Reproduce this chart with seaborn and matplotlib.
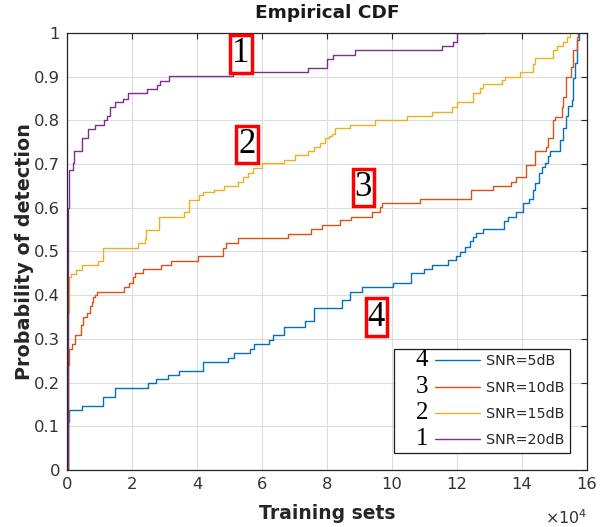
import numpy as np
import pandas as pd
import matplotlib
matplotlib.use("Agg")
import matplotlib.pyplot as plt
import seaborn as sns
from matplotlib.legend_handler import HandlerBase
from matplotlib.lines import Line2D
from matplotlib.text import Text
from matplotlib.ticker import FuncFormatter, MultipleLocator

# ---- data (x in units of 1e4 training sets) ----
labels = ["SNR=5dB", "SNR=10dB", "SNR=15dB", "SNR=20dB"]
numbers = ["4", "3", "2", "1"]
colors = ["#0072BD", "#D95319", "#EDB120", "#7E2F8E"]

x_5dB = [0.00, 0.03, 0.07, 0.45, 1.12, 1.47, 2.48, 2.74, 3.10, 3.46, 4.19, 4.94, 5.15,
         5.63, 5.74, 6.20, 6.35, 6.68, 7.32, 7.60, 8.45, 8.71, 9.07, 10.02, 10.60, 10.98,
         11.22, 11.73, 11.97, 12.09, 12.25, 12.40, 12.48, 12.60, 12.80, 13.45, 13.58,
         13.82, 14.04, 14.22, 14.35, 14.40, 14.53, 14.61, 14.71, 14.81, 14.86, 15.17,
         15.25, 15.35, 15.42, 15.53, 15.58, 15.63, 15.70, 15.76]
y_5dB = [0.00, 0.11, 0.137, 0.147, 0.168, 0.187, 0.198, 0.208, 0.217, 0.227, 0.248, 0.257,
         0.268, 0.278, 0.288, 0.297, 0.309, 0.328, 0.34, 0.37, 0.388, 0.408, 0.419, 0.429,
         0.45, 0.459, 0.469, 0.481, 0.49, 0.50, 0.511, 0.523, 0.534, 0.542, 0.551, 0.57,
         0.58, 0.591, 0.61, 0.62, 0.641, 0.656, 0.679, 0.693, 0.702, 0.719, 0.731, 0.755,
         0.782, 0.81, 0.833, 0.846, 0.896, 0.931, 0.984, 1.00]

x_10dB = [0.00, 0.03, 0.07, 0.14, 0.25, 0.42, 0.48, 0.62, 0.71, 0.76, 0.81, 0.86, 0.93,
          1.76, 1.92, 2.04, 2.09, 2.33, 2.88, 3.19, 4.04, 4.81, 4.89, 5.27, 6.79, 7.51,
          7.86, 8.40, 8.73, 9.37, 9.63, 9.68, 10.86, 12.43, 13.10, 13.65, 13.82, 14.12,
          14.41, 14.74, 14.81, 14.94, 15.02, 15.22, 15.27, 15.35, 15.50, 15.58, 15.68, 15.73]
y_10dB = [0.00, 0.24, 0.278, 0.288, 0.309, 0.332, 0.349, 0.359, 0.375, 0.385, 0.397, 0.40,
          0.408, 0.418, 0.429, 0.442, 0.45, 0.459, 0.469, 0.478, 0.49, 0.507, 0.519, 0.53,
          0.54, 0.551, 0.561, 0.572, 0.58, 0.591, 0.601, 0.61, 0.62, 0.64, 0.65, 0.66,
          0.671, 0.698, 0.729, 0.74, 0.759, 0.80, 0.808, 0.831, 0.854, 0.90, 0.923, 0.961,
          0.99, 1.00]

x_15dB = [0.00, 0.03, 0.05, 0.12, 0.28, 0.45, 0.94, 1.11, 2.17, 2.40, 2.43, 2.84, 3.60,
          3.76, 4.07, 4.17, 4.53, 4.83, 5.27, 5.42, 5.56, 5.71, 5.99, 6.69, 7.02, 7.42,
          7.60, 7.78, 7.94, 8.07, 8.14, 8.25, 8.71, 9.48, 10.45, 11.22, 11.84, 11.99,
          12.48, 12.71, 12.79, 13.38, 13.48, 13.94, 14.35, 14.40, 14.94, 15.09, 15.27,
          15.38, 15.48]
y_15dB = [0.00, 0.36, 0.442, 0.449, 0.458, 0.469, 0.479, 0.507, 0.519, 0.528, 0.549, 0.58,
          0.591, 0.618, 0.629, 0.636, 0.641, 0.65, 0.66, 0.67, 0.679, 0.692, 0.702, 0.709,
          0.721, 0.731, 0.74, 0.748, 0.759, 0.764, 0.77, 0.782, 0.79, 0.80, 0.81, 0.82,
          0.83, 0.843, 0.862, 0.873, 0.883, 0.892, 0.90, 0.911, 0.93, 0.942, 0.961, 0.97,
          0.98, 0.99, 1.00]

x_20dB = [0.00, 0.03, 0.06, 0.17, 0.22, 0.45, 0.66, 0.86, 1.15, 1.22, 1.32, 1.48, 1.71,
          1.89, 2.45, 2.76, 2.86, 3.13, 5.10, 7.42, 7.99, 8.17, 8.86, 11.53, 11.88, 11.99,
          12.85]
y_20dB = [0.00, 0.60, 0.686, 0.702, 0.731, 0.759, 0.78, 0.79, 0.80, 0.81, 0.83, 0.843,
          0.85, 0.862, 0.871, 0.881, 0.891, 0.902, 0.911, 0.92, 0.941, 0.95, 0.961, 0.97,
          0.98, 0.999, 0.999]

xs = [x_5dB, x_10dB, x_15dB, x_20dB]
ys = [y_5dB, y_10dB, y_15dB, y_20dB]

frames = []
for lab, xv, yv in zip(labels, xs, ys):
    frames.append(pd.DataFrame({"x": np.array(xv) * 1e4, "y": yv, "snr": lab}))
df = pd.concat(frames, ignore_index=True)

# ---- figure ----
sns.set_theme(style="white")
plt.rcParams["font.family"] = ["DejaVu Sans"]

fig = plt.figure(figsize=(6.03, 5.27), dpi=100)
ax = fig.add_axes([67 / 603, 57 / 527, 520 / 603, 437 / 527])

sns.lineplot(data=df, x="x", y="y", hue="snr", hue_order=labels,
             palette=dict(zip(labels, colors)), drawstyle="steps-post",
             estimator=None, sort=False, lw=1.0, legend=False, ax=ax)

ax.set_xlim(0, 16e4)
ax.set_ylim(0, 1)
ax.xaxis.set_major_locator(MultipleLocator(2e4))
ax.yaxis.set_major_locator(MultipleLocator(0.1))
ax.xaxis.set_major_formatter(FuncFormatter(lambda v, p: f"{v / 1e4:g}"))
ax.yaxis.set_major_formatter(FuncFormatter(lambda v, p: f"{round(v, 1):g}"))

ax.grid(True, color="#dddddd", lw=0.8)
ax.tick_params(direction="in", top=True, right=True, length=4, width=0.8,
               color="#262626", labelsize=11.8, labelcolor="#333333", pad=5)
for s in ax.spines.values():
    s.set_color("#262626")
    s.set_linewidth(0.9)

ax.set_title("Empirical CDF", fontsize=13.3, fontweight="bold", color="#1a1a1a", pad=11)
ax.set_xlabel("Training sets", fontsize=13.5, fontweight="bold", color="#262626", labelpad=9)
ax.set_ylabel("Probability of detection", fontsize=13.8, fontweight="bold", color="#262626", labelpad=0)
ax.text(1.0, -0.108, r"$\times10^{4}$", transform=ax.transAxes, ha="right", va="center",
        fontsize=11.5, color="#333333")

# boxed curve labels
box = dict(boxstyle="square,pad=0.06", fc="white", ec="red", lw=2.5)
ann = [("1", 5.35e4, 0.952), ("2", 5.54e4, 0.745), ("3", 9.12e4, 0.646), ("4", 9.52e4, 0.35)]
for t, xx, yy in ann:
    ax.text(xx, yy, t, family="Liberation Serif", fontsize=25, ha="center", va="center",
            color="black", bbox=box, zorder=5)


class NumLineHandler(HandlerBase):
    def __init__(self, num):
        super().__init__()
        self.num = num

    def create_artists(self, legend, orig_handle, xdescent, ydescent, width, height, fontsize, trans):
        y = height / 2 - ydescent
        x0 = -xdescent
        txt = Text(x0 + width * 0.28, y, self.num, ha="center", va="center", fontsize=18,
                   family="Liberation Serif", color="black", transform=trans)
        line = Line2D([x0 + width * 0.44, x0 + width], [y, y], color=orig_handle.get_color(),
                      lw=1.0, transform=trans)
        return [txt, line]


handles = ax.get_lines()[:4]
leg = ax.legend(handles, labels, loc="lower right", bbox_to_anchor=(1 - 17 / 520, 17 / 437),
                borderaxespad=0, fontsize=10.3, handlelength=5.6, handletextpad=0.42,
                labelspacing=0.86, frameon=True, fancybox=False, edgecolor="#1a1a1a",
                framealpha=1,
                handler_map={h: NumLineHandler(n) for h, n in zip(handles, numbers)})
leg.get_frame().set_linewidth(0.9)
for t in leg.get_texts():
    t.set_color("#262626")

fig.savefig("out.png", dpi=100, facecolor="white")
